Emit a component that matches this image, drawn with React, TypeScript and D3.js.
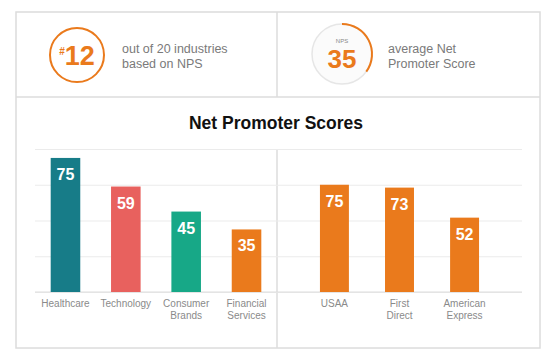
import { useEffect, useRef } from 'react';
import * as d3 from 'd3';

// industries (left panel)
const industries = ["Healthcare", "Technology", "Consumer\nBrands", "Financial\nServices"];
const industryScores = [75, 59, 45, 35];
const industryColors = ["#177c88", "#e8615e", "#17a887", "#ea7a1c"];
const industryTicks = [0, 20, 40, 60, 80];

// financial brands (right panel)
const brands = ["USAA", "First\nDirect", "American\nExpress"];
const brandScores = [75, 73, 52];
const brandTicks = [0, 25, 50, 75, 100];

const rank = 12;
const industryCount = 20;
const avgNps = 35;

const W = 549;
const H = 354;
const FONT = "'Liberation Sans', Arial, Helvetica, sans-serif";
const BORDER = "#dcdcdc";
const ORANGE = "#ea7a1c";

export default function App() {
  const svgRef = useRef<SVGSVGElement>(null);

  useEffect(() => {
    if (!svgRef.current) return;
    const svg = d3.select(svgRef.current);
    svg.selectAll("*").remove();

    svg.append("rect").attr("width", W).attr("height", H).attr("fill", "#fff");

    // frame
    const frame = svg.append("g").attr("stroke", BORDER).attr("stroke-width", 1.5).attr("fill", "none");
    frame.append("rect").attr("x", 16).attr("y", 12).attr("width", 524).attr("height", 336);
    frame.append("line").attr("x1", 16).attr("x2", 540).attr("y1", 97).attr("y2", 97);
    frame.append("line").attr("x1", 277).attr("x2", 277).attr("y1", 12).attr("y2", 97);
    frame.append("line").attr("x1", 277).attr("x2", 277).attr("y1", 149).attr("y2", 348);

    // --- top left: rank badge
    const badge = svg.append("g").attr("transform", "translate(77,55)");
    badge.append("circle").attr("r", 27).attr("fill", "none").attr("stroke", ORANGE).attr("stroke-width", 2);
    const bt = badge.append("text").attr("text-anchor", "middle").attr("y", 10)
      .style("font-family", FONT).style("font-weight", "bold").attr("fill", ORANGE);
    bt.append("tspan").text("#").style("font-size", "10px").attr("dy", -10);
    bt.append("tspan").text(String(rank)).style("font-size", "27px").attr("dy", 10);

    const t1 = svg.append("text").style("font-family", FONT).style("font-size", "12.5px").attr("fill", "#7a7a7a");
    t1.append("tspan").attr("x", 122).attr("y", 53).text(`out of ${industryCount} industries`);
    t1.append("tspan").attr("x", 122).attr("y", 68).text("based on NPS");

    // --- top right: NPS gauge
    const gauge = svg.append("g").attr("transform", "translate(342,54)");
    gauge.append("circle").attr("r", 30).attr("fill", "#fbfbfb").attr("stroke", "#e6e6e6").attr("stroke-width", 1.5);
    const arc = d3.arc<any>().innerRadius(29).outerRadius(31).startAngle(0).endAngle((avgNps / 100) * 2 * Math.PI);
    gauge.append("path").attr("d", arc({})).attr("fill", ORANGE);
    gauge.append("text").attr("text-anchor", "middle").attr("y", -11).text("NPS")
      .style("font-family", FONT).style("font-size", "6px").attr("fill", "#888");
    gauge.append("text").attr("text-anchor", "middle").attr("y", 14).text(String(avgNps))
      .style("font-family", FONT).style("font-size", "26px").style("font-weight", "bold").attr("fill", ORANGE);

    const t2 = svg.append("text").style("font-family", FONT).style("font-size", "12.5px").attr("fill", "#7a7a7a");
    t2.append("tspan").attr("x", 388).attr("y", 53).text("average Net");
    t2.append("tspan").attr("x", 388).attr("y", 68).text("Promoter Score");

    // --- title
    svg.append("text").attr("x", 276).attr("y", 129).attr("text-anchor", "middle")
      .text("Net Promoter Scores")
      .style("font-family", FONT).style("font-size", "17.5px").style("font-weight", "bold").attr("fill", "#111");

    const yTop = 149;
    const yBase = 292;

    const panel = (
      names: string[], values: number[], colors: string[], ticks: number[],
      x0: number, x1: number,
      padIn: number, padOut: number
    ) => {
      const x = d3.scaleBand<string>().domain(names).range([x0, x1]).paddingInner(padIn).paddingOuter(padOut);
      const y = d3.scaleLinear().domain([0, d3.max(ticks)!]).range([yBase, yTop]);
      const g = svg.append("g");

      g.append("g")
        .attr("transform", `translate(${x0},0)`)
        .call(d3.axisLeft(y).tickValues(ticks).tickSize(-(x1 - x0)).tickFormat(() => ""))
        .call(s => s.select(".domain").remove())
        .call(s => s.selectAll(".tick line").attr("stroke", "#ebebeb").attr("stroke-width", 1));

      g.append("line").attr("x1", x0).attr("x2", x1).attr("y1", yBase).attr("y2", yBase)
        .attr("stroke", "#dedede").attr("stroke-width", 1.2);

      const bars = g.selectAll("g.bar").data(names).enter().append("g").attr("class", "bar");
      bars.append("rect")
        .attr("x", d => x(d)!)
        .attr("width", x.bandwidth())
        .attr("y", (_, i) => y(values[i]))
        .attr("height", (_, i) => yBase - y(values[i]))
        .attr("fill", (_, i) => colors[i % colors.length]);
      bars.append("text")
        .attr("x", d => x(d)! + x.bandwidth() / 2)
        .attr("y", (_, i) => y(values[i]) + 22)
        .attr("text-anchor", "middle")
        .text((_, i) => String(values[i]))
        .style("font-family", FONT).style("font-size", "16px").style("font-weight", "bold").attr("fill", "#fff");

      const lbl = bars.append("text")
        .attr("text-anchor", "middle")
        .style("font-family", FONT).style("font-size", "10px").attr("fill", "#8a8a8a");
      lbl.each(function (d) {
        d.split("\n").forEach((p, k) => {
          d3.select(this).append("tspan")
            .attr("x", x(d)! + x.bandwidth() / 2)
            .attr("y", 307 + k * 12)
            .text(p);
        });
      });
    };

    panel(industries, industryScores, industryColors, industryTicks, 35, 277, 0.51, 0.26);
    panel(brands, brandScores, [ORANGE], brandTicks, 277, 522, 0.555, 0.66);
  }, []);

  return (
    <svg ref={svgRef} width={W} height={H} style={{ position: "absolute", left: 0, top: 0, display: "block" }} />
  );
}
